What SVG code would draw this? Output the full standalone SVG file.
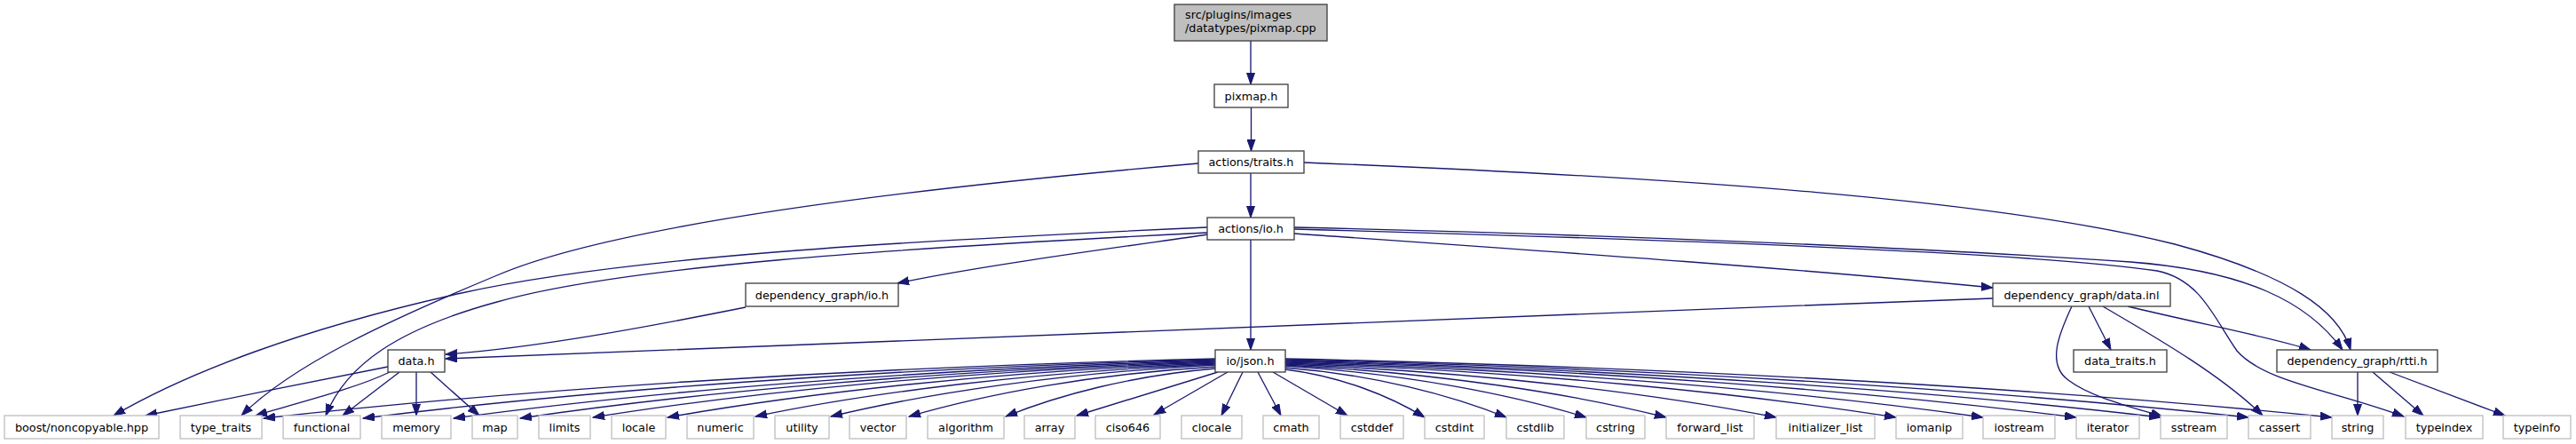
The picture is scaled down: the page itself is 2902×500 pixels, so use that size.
<svg xmlns="http://www.w3.org/2000/svg" width="2902" height="500" viewBox="0 0 2902 500">
<style>
.node rect{fill:#ffffff;stroke:#404040;stroke-width:1.33}
.ext rect{fill:#ffffff;stroke:#bfbfbf;stroke-width:1.33}
.root rect{fill:#bfbfbf}
text{font-family:"DejaVu Sans","Liberation Sans",sans-serif;font-size:12.8px;fill:#000000;text-anchor:middle}
.lt{text-anchor:start}
.edges path{fill:none;stroke:#191970;stroke-width:1.33;marker-end:url(#arr)}
</style>
<defs>
<marker id="arr" markerUnits="userSpaceOnUse" markerWidth="14" markerHeight="10" viewBox="0 0 14 10" refX="13" refY="5" orient="auto">
<path d="M0,0.5 L13,5 L0,9.5 z" fill="#191970" stroke="#191970" stroke-width="1"/>
</marker>
</defs>
<rect width="2902" height="500" fill="#ffffff"/>
<g class="edges" id="edges">
<path d="M1409,46 L1409,95"/>
<path d="M1409.5,121 L1409.5,170"/>
<path d="M1409,195 L1409,245"/>
<path d="M1409,270 L1409,394"/>
<path d="M1350,184 C1050,210 700,250 560,310 C440,360 330,410 272,468"/>
<path d="M1469,183 C1900,200 2250,225 2450,275 C2580,310 2635,350 2648,394"/>
<path d="M1360,256 C1000,272 700,290 520,330 C340,370 210,420 128,468"/>
<path d="M1360,262 C1000,280 700,300 560,340 C450,370 390,410 367,468"/>
<path d="M1361,264 C1250,280 1100,300 1011,319"/>
<path d="M1458,263 C1700,280 2000,300 2245,324"/>
<path d="M1458,256 C1800,264 2150,278 2400,295 C2530,305 2600,340 2639,394"/>
<path d="M1458,258 C1900,270 2300,285 2430,305 C2480,315 2495,360 2520,395 C2550,430 2630,440 2708,469"/>
<path d="M840,346 C720,370 600,392 502,399"/>
<path d="M2245,336 C1600,360 900,388 502,404"/>
<path d="M437,413 C350,430 250,450 164,468"/>
<path d="M439,419 C400,438 330,455 288,468"/>
<path d="M450,419 L386,468"/>
<path d="M469,419 L469,468"/>
<path d="M485,419 L540,468"/>
<path d="M1369,404 C940,414 565,441 297,471"/>
<path d="M1369,405 C985,415 649,441 409,471"/>
<path d="M1369,406 C1026,416 725,442 511,471"/>
<path d="M1369,407 C1056,417 782,442 586,471"/>
<path d="M1369,408 C1089,417 843,442 668,470"/>
<path d="M1369,409 C1122,418 906,443 752,470"/>
<path d="M1369,410 C1162,419 980,442 851,469"/>
<path d="M1369,411 C1196,420 1044,443 936,469"/>
<path d="M1369,413 C1231,421 1110,444 1024,469"/>
<path d="M1369,415 C1275,423 1192,445 1133,469"/>
<path d="M1372,419 L1213,468"/>
<path d="M1383,419 L1300,467"/>
<path d="M1400,419 L1376,468"/>
<path d="M1417,419 L1443,468"/>
<path d="M1434,419 L1518,468"/>
<path d="M1448,416 C1511,424 1566,446 1605,470"/>
<path d="M1448,414 C1548,422 1635,445 1697,470"/>
<path d="M1448,412 C1584,421 1702,444 1787,470"/>
<path d="M1448,411 C1620,420 1770,443 1877,470"/>
<path d="M1448,410 C1669,419 1863,443 2001,470"/>
<path d="M1448,409 C1723,418 1964,443 2136,470"/>
<path d="M1448,408 C1762,417 2038,442 2234,470"/>
<path d="M1448,407 C1804,416 2116,442 2339,470"/>
<path d="M1448,406 C1842,416 2188,441 2434,470"/>
<path d="M1448,405 C1882,415 2262,441 2533,470"/>
<path d="M1448,404 C1920,414 2332,440 2627,470"/>
<path d="M2353,345 L2378,394"/>
<path d="M2334,345 C2320,375 2305,410 2330,428 C2355,447 2400,458 2436,469"/>
<path d="M2369,345 C2420,375 2500,420 2549,468"/>
<path d="M2397,345 C2480,365 2560,380 2603,394"/>
<path d="M2656,419 L2656,468"/>
<path d="M2673,419 L2730,468"/>
<path d="M2692,419 L2822,468"/>
</g>
<g id="n_root" class="node root"><rect x="1323" y="5" width="172" height="41"/><text class="lt" x="1335" y="20.5">src/plugins/images</text><text class="lt" x="1335" y="36">/datatypes/pixmap.cpp</text></g>
<g id="n_pixmap_h" class="node"><rect x="1368" y="95" width="83" height="26"/><text x="1409.5" y="112.5">pixmap.h</text></g>
<g id="n_traits_h" class="node"><rect x="1350" y="170" width="119" height="25"/><text x="1409.5" y="187">actions/traits.h</text></g>
<g id="n_actions_io_h" class="node"><rect x="1360" y="245" width="98" height="25"/><text x="1409" y="262">actions/io.h</text></g>
<g id="n_dg_io_h" class="node"><rect x="840" y="319" width="172" height="26"/><text x="926" y="336.5">dependency_graph/io.h</text></g>
<g id="n_data_inl" class="node"><rect x="2245" y="319" width="200" height="26"/><text x="2345" y="336.5">dependency_graph/data.inl</text></g>
<g id="n_data_h" class="node"><rect x="437" y="394" width="64" height="25"/><text x="469" y="411">data.h</text></g>
<g id="n_json_h" class="node"><rect x="1369" y="394" width="79" height="25"/><text x="1408.5" y="411">io/json.h</text></g>
<g id="n_data_traits_h" class="node"><rect x="2336" y="394" width="105" height="25"/><text x="2388.5" y="411">data_traits.h</text></g>
<g id="n_rtti_h" class="node"><rect x="2565" y="394" width="181" height="25"/><text x="2655.5" y="411">dependency_graph/rtti.h</text></g>
<g id="n_boost" class="ext"><rect x="5" y="468" width="174" height="26"/><text x="92" y="485.5">boost/noncopyable.hpp</text></g>
<g id="n_type_traits" class="ext"><rect x="203" y="468" width="92" height="26"/><text x="249" y="485.5">type_traits</text></g>
<g id="n_functional" class="ext"><rect x="319" y="468" width="87" height="26"/><text x="362.5" y="485.5">functional</text></g>
<g id="n_memory" class="ext"><rect x="430" y="468" width="78" height="26"/><text x="469" y="485.5">memory</text></g>
<g id="n_map" class="ext"><rect x="532" y="468" width="51" height="26"/><text x="557.5" y="485.5">map</text></g>
<g id="n_limits" class="ext"><rect x="607" y="468" width="58" height="26"/><text x="636" y="485.5">limits</text></g>
<g id="n_locale" class="ext"><rect x="689" y="468" width="61" height="26"/><text x="719.5" y="485.5">locale</text></g>
<g id="n_numeric" class="ext"><rect x="774" y="468" width="75" height="26"/><text x="811.5" y="485.5">numeric</text></g>
<g id="n_utility" class="ext"><rect x="873" y="468" width="61" height="26"/><text x="903.5" y="485.5">utility</text></g>
<g id="n_vector" class="ext"><rect x="957" y="468" width="64" height="26"/><text x="989" y="485.5">vector</text></g>
<g id="n_algorithm" class="ext"><rect x="1045" y="468" width="86" height="26"/><text x="1088" y="485.5">algorithm</text></g>
<g id="n_array" class="ext"><rect x="1154" y="468" width="57" height="26"/><text x="1182.5" y="485.5">array</text></g>
<g id="n_ciso646" class="ext"><rect x="1234" y="468" width="73" height="26"/><text x="1270.5" y="485.5">ciso646</text></g>
<g id="n_clocale" class="ext"><rect x="1331" y="468" width="68" height="26"/><text x="1365" y="485.5">clocale</text></g>
<g id="n_cmath" class="ext"><rect x="1423" y="468" width="63" height="26"/><text x="1454.5" y="485.5">cmath</text></g>
<g id="n_cstddef" class="ext"><rect x="1510" y="468" width="71" height="26"/><text x="1545.5" y="485.5">cstddef</text></g>
<g id="n_cstdint" class="ext"><rect x="1605" y="468" width="67" height="26"/><text x="1638.5" y="485.5">cstdint</text></g>
<g id="n_cstdlib" class="ext"><rect x="1697" y="468" width="65" height="26"/><text x="1729.5" y="485.5">cstdlib</text></g>
<g id="n_cstring" class="ext"><rect x="1787" y="468" width="66" height="26"/><text x="1820" y="485.5">cstring</text></g>
<g id="n_forward_list" class="ext"><rect x="1877" y="468" width="99" height="26"/><text x="1926.5" y="485.5">forward_list</text></g>
<g id="n_initializer_list" class="ext"><rect x="2001" y="468" width="111" height="26"/><text x="2056.5" y="485.5">initializer_list</text></g>
<g id="n_iomanip" class="ext"><rect x="2136" y="468" width="75" height="26"/><text x="2173.5" y="485.5">iomanip</text></g>
<g id="n_iostream" class="ext"><rect x="2234" y="468" width="81" height="26"/><text x="2274.5" y="485.5">iostream</text></g>
<g id="n_iterator" class="ext"><rect x="2339" y="468" width="71" height="26"/><text x="2374.5" y="485.5">iterator</text></g>
<g id="n_sstream" class="ext"><rect x="2434" y="468" width="75" height="26"/><text x="2471.5" y="485.5">sstream</text></g>
<g id="n_cassert" class="ext"><rect x="2533" y="468" width="70" height="26"/><text x="2568" y="485.5">cassert</text></g>
<g id="n_string" class="ext"><rect x="2627" y="468" width="58" height="26"/><text x="2656" y="485.5">string</text></g>
<g id="n_typeindex" class="ext"><rect x="2710" y="468" width="87" height="26"/><text x="2753.5" y="485.5">typeindex</text></g>
<g id="n_typeinfo" class="ext"><rect x="2820" y="468" width="76" height="26"/><text x="2858" y="485.5">typeinfo</text></g>
</svg>
